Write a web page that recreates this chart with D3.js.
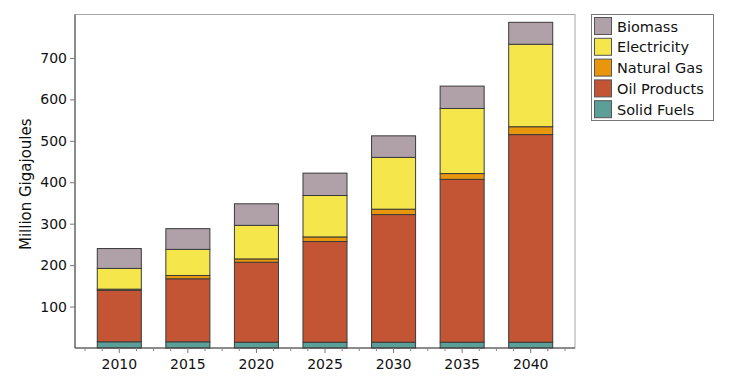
<!DOCTYPE html>
<html>
<head>
<meta charset="utf-8">
<script src="https://cdn.jsdelivr.net/npm/d3@7"></script>
<style>
  html, body { margin: 0; padding: 0; background: #fff; }
  svg { display: block; font-family: "DejaVu Sans", Verdana, sans-serif; }
</style>
</head>
<body>
<svg id="chart" width="730" height="383"></svg>
<script>
// ---- data ----
const years = ["2010", "2015", "2020", "2025", "2030", "2035", "2040"];
const seriesNames = ["Solid Fuels", "Oil Products", "Natural Gas", "Electricity", "Biomass"];
const solidFuels  = [15, 15, 14, 14, 14, 14, 14];
const oilProducts = [124, 152, 193, 243, 308, 393, 501];
const naturalGas  = [3, 8, 8, 11, 13, 14, 19];
const electricity = [50, 63, 81, 100, 125, 157, 199];
const biomass     = [48, 50, 52, 54, 52, 54, 53];
const yTicks = [100, 200, 300, 400, 500, 600, 700];
const legendOrder = ["Biomass", "Electricity", "Natural Gas", "Oil Products", "Solid Fuels"];

const colors = {
  "Solid Fuels": "#5b9f99",
  "Oil Products": "#c45534",
  "Natural Gas": "#e8960c",
  "Electricity": "#f5e64b",
  "Biomass": "#b0a1a8"
};

const table = years.map((y, i) => ({
  year: y,
  "Solid Fuels": solidFuels[i],
  "Oil Products": oilProducts[i],
  "Natural Gas": naturalGas[i],
  "Electricity": electricity[i],
  "Biomass": biomass[i]
}));

const svg = d3.select("#chart");
const L = 75, R = 575, T = 16.5, B = 348;

const x = d3.scaleBand().domain(years).range([L, R]).paddingInner(0.358).paddingOuter(0.325);
const y = d3.scaleLinear().domain([0, 800]).range([B, T]);

// frame
svg.append("rect").attr("x", L).attr("y", T - 2).attr("width", R - L).attr("height", B - T + 2)
  .attr("fill", "none").attr("stroke", "#a6a6a6").attr("stroke-width", 1);

// stacked bars
const stack = d3.stack().keys(seriesNames)(table);
const g = svg.append("g");
stack.forEach(layer => {
  g.append("g").selectAll("rect").data(layer).join("rect")
    .attr("x", d => x(d.data.year))
    .attr("y", d => y(d[1]))
    .attr("width", x.bandwidth())
    .attr("height", d => y(d[0]) - y(d[1]))
    .attr("fill", colors[layer.key])
    .attr("stroke", "#3a3a3a")
    .attr("stroke-width", 1);
});

// y axis
const yAxis = d3.axisLeft(y).tickValues(yTicks).tickSize(5).tickPadding(3).tickFormat(d3.format("d"));
const ya = svg.append("g").attr("transform", `translate(${L},0)`).call(yAxis);
ya.select(".domain").attr("stroke", "#444").attr("d", `M0,${T - 2}V${B}`);
ya.selectAll(".tick line").attr("stroke", "#777");
ya.selectAll(".tick text").attr("font-size", 14).attr("fill", "#111")
  .attr("font-family", "DejaVu Sans, Verdana, sans-serif");

// x axis
const xAxis = d3.axisBottom(x).tickSize(5).tickPadding(6);
const xa = svg.append("g").attr("transform", `translate(0,${B})`).call(xAxis);
xa.select(".domain").attr("stroke", "#444").attr("d", `M${L},0H${R}`);
xa.selectAll(".tick line").attr("stroke", "#777");
xa.selectAll(".tick text").attr("font-size", 14).attr("fill", "#111")
  .attr("font-family", "DejaVu Sans, Verdana, sans-serif");

// minor x ticks at quarter steps
const step = x.step();
const minor = [];
years.forEach(yr => {
  const c = x(yr) + x.bandwidth() / 2;
  [-0.5, -0.25, 0.25].forEach(f => minor.push(c + f * step));
});
const lastC = x(years[years.length - 1]) + x.bandwidth() / 2;
minor.push(lastC + 0.25 * step, lastC + 0.5 * step);
svg.append("g").selectAll("line").data(minor.filter(v => v > L + 1 && v < R - 1)).join("line")
  .attr("x1", d => d).attr("x2", d => d).attr("y1", B).attr("y2", B + 3)
  .attr("stroke", "#888").attr("stroke-width", 1);

// y axis title
svg.append("text")
  .attr("transform", `translate(31,${(T + B) / 2 + 2}) rotate(-90)`)
  .attr("text-anchor", "middle")
  .attr("font-size", 15).attr("fill", "#111")
  .text("Million Gigajoules");

// legend
const lg = svg.append("g");
lg.append("rect").attr("x", 591.5).attr("y", 14.5).attr("width", 122).attr("height", 106)
  .attr("fill", "#fff").attr("stroke", "#777");
legendOrder.forEach((name, i) => {
  const yy = 17 + i * 20.8;
  lg.append("rect").attr("x", 594.5).attr("y", yy + 0.5).attr("width", 17).attr("height", 17)
    .attr("fill", colors[name]).attr("stroke", "#555");
  lg.append("text").attr("x", 617).attr("y", yy + 14.5)
    .attr("font-size", 14.5).attr("fill", "#111").text(name);
});
</script>
</body>
</html>
